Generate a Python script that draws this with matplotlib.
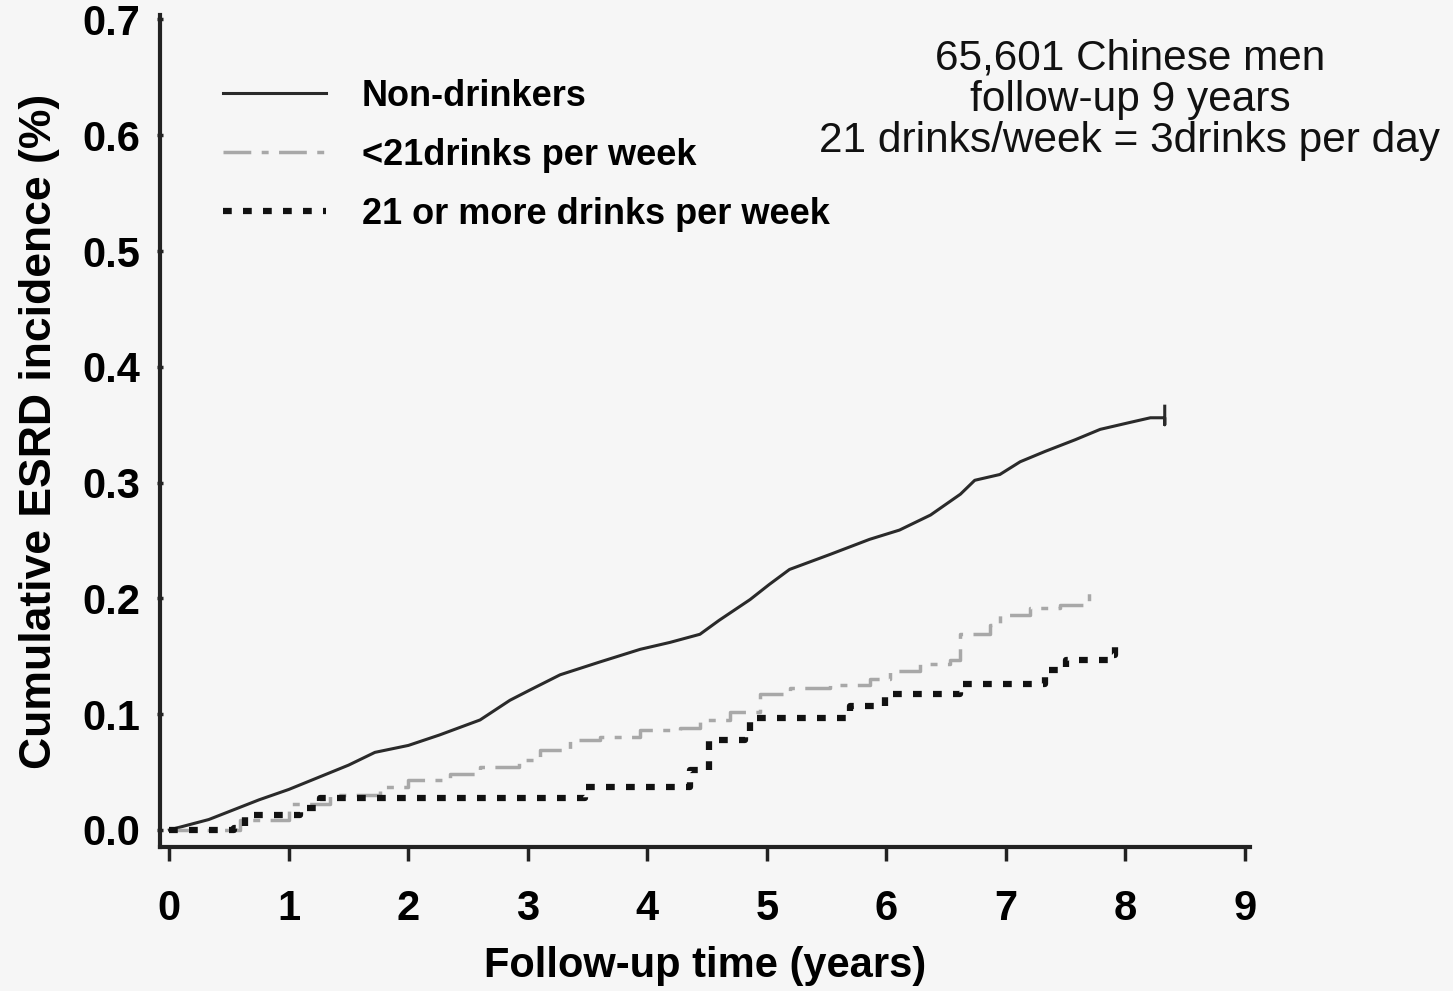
import matplotlib.pyplot as plt

# Non-drinkers
t_non = [0, 0.33, 0.75, 1.0, 1.5, 1.72, 2.0, 2.26, 2.6, 2.85, 3.02, 3.27, 3.6, 3.94, 4.19,
         4.44, 4.6, 4.86, 5.02, 5.19, 5.53, 5.86, 6.11, 6.37, 6.62, 6.74, 6.95, 7.12, 7.33,
         7.58, 7.79, 8.04, 8.21, 8.33, 8.33, 8.33]
y_non = [0, 0.009, 0.026, 0.035, 0.056, 0.067, 0.073, 0.082, 0.095, 0.112, 0.121, 0.134, 0.145,
         0.156, 0.162, 0.169, 0.181, 0.199, 0.212, 0.225, 0.238, 0.251, 0.259, 0.272, 0.29,
         0.302, 0.307, 0.318, 0.327, 0.337, 0.346, 0.352, 0.356, 0.356, 0.350, 0.366]

# <21 drinks per week
t_low = [0, 0.59, 1.0, 1.34, 1.76, 2.0, 2.35, 2.6, 2.93, 3.1, 3.35, 3.6, 3.94, 4.27, 4.44,
         4.69, 4.94, 5.19, 5.53, 5.86, 6.03, 6.28, 6.53, 6.62, 6.87, 6.95, 7.2, 7.45, 7.7, 7.7]
y_low = [0, 0.009, 0.022, 0.03, 0.037, 0.043, 0.048, 0.054, 0.06, 0.069, 0.078, 0.08, 0.086,
         0.088, 0.095, 0.102, 0.117, 0.123, 0.125, 0.13, 0.137, 0.143, 0.147, 0.169, 0.177,
         0.186, 0.192, 0.194, 0.194, 0.205]

# 21 or more drinks per week
t_high = [0, 0.54, 0.63, 1.0, 1.09, 1.26, 3.43, 3.48, 4.27, 4.36, 4.52, 4.82, 4.86, 5.61, 5.7,
          5.95, 5.99, 6.57, 6.62, 7.24, 7.33, 7.5, 7.87, 7.91]
y_high = [0, 0.002, 0.013, 0.013, 0.019, 0.028, 0.028, 0.037, 0.037, 0.052, 0.078, 0.082,
          0.097, 0.097, 0.107, 0.107, 0.117, 0.117, 0.126, 0.126, 0.138, 0.147, 0.151, 0.16]

xticks = list(range(10))
yticks = [0.0, 0.1, 0.2, 0.3, 0.4, 0.5, 0.6, 0.7]

bg = '#f6f6f6'
plt.rcParams['font.family'] = ['Liberation Sans', 'DejaVu Sans']

fig = plt.figure(figsize=(14.53, 9.91), dpi=100, facecolor=bg)
ax = fig.add_axes([0.110, 0.145, 0.750, 0.840], facecolor=bg)

ax.plot(t_non, y_non, color='#2a2a2a', lw=2.2, label='Non-drinkers')
ax.plot(t_low, y_low, color='#a8a8a8', lw=2.5, dashes=(8, 3, 2, 3), drawstyle='steps-post',
        label='<21drinks per week')
ax.plot(t_high, y_high, color='#111111', lw=4.5, dashes=(1.4, 1.8), drawstyle='steps-post',
        label='21 or more drinks per week')

ax.set_xlim(-0.08, 9.04)
ax.set_ylim(-0.015, 0.704)
ax.set_xticks(xticks)
ax.set_yticks(yticks)
ax.set_yticklabels([f'{v:.1f}' for v in yticks])

for s in ['top', 'right']:
    ax.spines[s].set_visible(False)
for s in ['left', 'bottom']:
    ax.spines[s].set_linewidth(3)
    ax.spines[s].set_color('#222222')

ax.tick_params(axis='x', length=10, width=2.5, pad=20, labelsize=30, color='#222222')
ax.tick_params(axis='y', length=4, width=2.5, pad=12, labelsize=30, color='#222222',
               direction='inout')
for lab in ax.get_xticklabels() + ax.get_yticklabels():
    lab.set_fontweight('bold')

ax.set_xlabel('Follow-up time (years)', fontsize=30, fontweight='bold', labelpad=12)
ax.set_ylabel('Cumulative ESRD incidence (%)', fontsize=32, fontweight='bold', labelpad=16)

leg = ax.legend(loc='upper left', bbox_to_anchor=(0.028, 0.962), frameon=False,
                handlelength=2.85, handletextpad=1.0, labelspacing=0.66,
                prop={'weight': 'bold', 'size': 26})

fig.text(0.7777, 0.899, '65,601 Chinese men\nfollow-up 9 years\n21 drinks/week = 3drinks per day',
         ha='center', va='center', fontsize=30.5, linespacing=1.04, color='#111111')

fig.savefig('out.png', dpi=100, facecolor=bg)
